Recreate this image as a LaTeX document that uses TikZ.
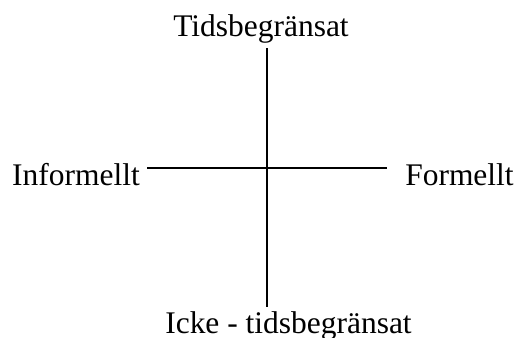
\documentclass[tikz,border=0pt]{standalone}
\usepackage{fontspec}
\setmainfont{Liberation Serif}
\usetikzlibrary{positioning}

\begin{document}
\begin{tikzpicture}[x=0.75pt, y=-0.75pt, line width=1.5pt]
    \useasboundingbox (0,0) rectangle (519,337);
    \tikzset{etikett/.style={inner sep=0pt, anchor=base, font=\fontsize{23.6}{28}\selectfont}}

    % Axlar
    \coordinate (topp) at (267,48);
    \coordinate (botten) at (267,307);
    \coordinate (vanster) at (147,168);
    \coordinate (hoger) at (387,168);
    \draw (topp) -- (botten);
    \draw (vanster) -- (hoger);

    % Etiketter
    \node[etikett] (tids) at (261,36) {Tidsbegränsat};
    \node[etikett] (informellt) at (76,185) {Informellt};
    \node[etikett] (formellt) at (459.5,185) {Formellt};
    \node[etikett] (icketids) at (288.5,333) {Icke - tidsbegränsat};
\end{tikzpicture}
\end{document}
